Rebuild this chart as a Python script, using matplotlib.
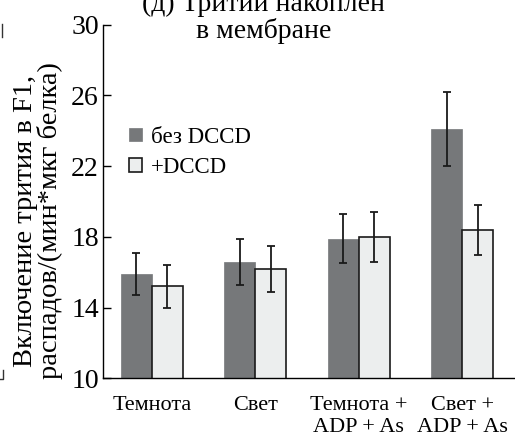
import matplotlib
matplotlib.use("Agg")
import matplotlib.pyplot as plt
from matplotlib.lines import Line2D
import numpy as np

plt.rcParams['font.family'] = ['Liberation Serif', 'DejaVu Serif']

# данные
categories = ['Темнота', 'Свет', 'Темнота +\nADP + As', 'Свет +\nADP + As']
no_dccd = [15.9, 16.6, 17.9, 24.1]
no_dccd_err = [1.2, 1.3, 1.4, 2.1]
dccd = [15.2, 16.2, 18.0, 18.4]
dccd_err = [1.2, 1.3, 1.4, 1.4]
yticks = [10, 14, 18, 22, 26, 30]

fig = plt.figure(figsize=(5.15, 4.34), dpi=100)
ax = fig.add_axes([0.2, 0.1283, 0.8, 0.815])

x = np.arange(len(categories))
w = 0.30
ax.bar(x - w / 2, no_dccd, w, color='#76787a', edgecolor='#76787a', linewidth=0.5,
       yerr=no_dccd_err, error_kw=dict(ecolor='#1a1a1a', elinewidth=1.3, capsize=3, capthick=1.3),
       label='без DCCD', zorder=2)
ax.bar(x + w / 2, dccd, w, color='#eceeee', edgecolor='#1a1a1a', linewidth=1.2,
       yerr=dccd_err, error_kw=dict(ecolor='#1a1a1a', elinewidth=1.3, capsize=3, capthick=1.3),
       label='+DCCD', zorder=2)

ax.set_xlim(-0.473, 3.512)
ax.set_ylim(10, 30)
ax.set_yticks(yticks)
ax.set_xticks(x)
ax.set_xticklabels(categories, fontsize=16, linespacing=1.25)
ax.tick_params(axis='y', direction='in', length=6, width=1, labelsize=20, pad=3)
ax.tick_params(axis='x', length=0, pad=12.5)
ax.spines['top'].set_visible(False)
ax.spines['right'].set_visible(False)
for s in ['left', 'bottom']:
    ax.spines[s].set_linewidth(1.0)

# легенда
ax.legend(loc='upper left', bbox_to_anchor=(0.013, 0.77), frameon=False, fontsize=16.5,
          handlelength=0.55, handleheight=0.55, handletextpad=0.4, labelspacing=0.4)

# подпись оси и заголовок
fig.text(38 / 515, 1 - 221 / 434, 'Включение трития в F1,\nраспадов/(мин*мкг белка)',
         rotation=90, ha='center', va='center', fontsize=20.5, multialignment='center',
         linespacing=0.95)
fig.text(264 / 515, 1 - 18 / 434, '(д) Тритий накоплен\nв мембране', ha='center', va='center',
         fontsize=20, linespacing=1.05)

# обрезанные края соседней панели
fig.add_artist(Line2D([1.5 / 515, 1.5 / 515], [1 - 24 / 434, 1 - 37 / 434], color='#333333', lw=1))
fig.add_artist(Line2D([2.5 / 515, 2.5 / 515, 0], [1 - 370 / 434, 1 - 379 / 434, 1 - 379 / 434],
                      color='#333333', lw=1))

fig.savefig('out.png', dpi=100)
